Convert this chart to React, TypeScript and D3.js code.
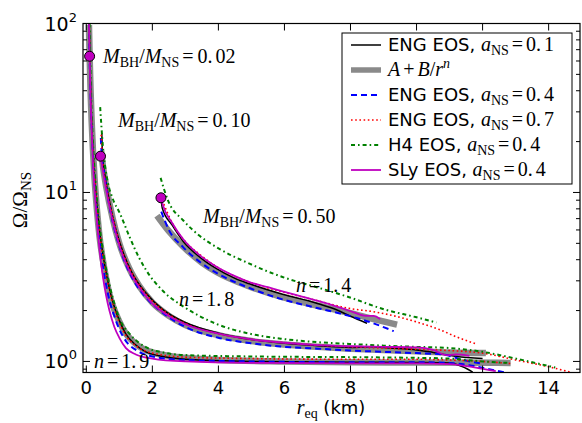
import React from "react";
import * as d3 from "d3";

type Pt = [number, number];

// ---------- axes ----------
const X_DOMAIN: [number, number] = [-0.1, 14.95];
const Y_DOMAIN: [number, number] = [0.86, 100];
const xTicks = [0, 2, 4, 6, 8, 10, 12, 14];
const yTicks = [1, 10, 100];
const yTickExponents = ["0", "1", "2"];
const yMinorTicks = [0.9, 2, 3, 4, 5, 6, 7, 8, 9, 20, 30, 40, 50, 60, 70, 80, 90];

// ---------- M_BH/M_NS = 0.02  (n = 1.9) ----------
const fit_q002: Pt[] = [[0.08, 98], [0.1, 64.5], [0.13, 39.6], [0.16, 27], [0.2, 18], [0.25, 12.1], [0.3, 8.9], [0.4, 5.5], [0.5, 4.0], [0.6, 3.1], [0.7, 2.5], [0.8, 2.15], [1.0, 1.72], [1.2, 1.46], [1.5, 1.27], [2.0, 1.13], [3, 1.05], [4, 1.02], [6, 1.0], [8, 0.99], [10, 0.985], [12.85, 0.98]];
const eng01_q002: Pt[] = [[0.09, 100], [0.11, 60], [0.15, 30], [0.2, 18], [0.3, 9.5], [0.4, 6.0], [0.55, 3.8], [0.7, 2.7], [0.85, 2.1], [1.0, 1.75], [1.2, 1.45], [1.5, 1.25], [1.8, 1.14], [2.2, 1.08], [3, 1.03], [5, 1.0], [8, 0.99], [10, 0.985], [11, 0.98], [11.4, 0.93], [11.7, 0.865]];
const eng04_q002: Pt[] = [[0.08, 100], [0.1, 62], [0.13, 37], [0.16, 25], [0.2, 16.5], [0.3, 8.4], [0.4, 5.2], [0.5, 3.7], [0.6, 2.85], [0.7, 2.3], [0.85, 1.85], [1.0, 1.55], [1.2, 1.32], [1.5, 1.17], [2.0, 1.07], [3, 1.02], [5, 1.0], [8, 0.99], [10, 0.99], [11, 0.98], [11.6, 0.95], [12.2, 0.9], [12.7, 0.86]];
const eng07_q002: Pt[] = [[0.09, 100], [0.11, 62], [0.15, 31], [0.2, 18.5], [0.3, 9.6], [0.4, 6.0], [0.55, 3.7], [0.7, 2.65], [0.85, 2.05], [1.0, 1.7], [1.2, 1.42], [1.5, 1.24], [2, 1.12], [3, 1.06], [5, 1.04], [8, 1.03], [10, 1.03], [11, 1.02], [12, 1.0], [12.9, 0.97]];
const h4_q002: Pt[] = [[0.1, 100], [0.12, 62], [0.15, 35], [0.2, 20], [0.3, 10.2], [0.4, 6.4], [0.55, 4.0], [0.7, 2.85], [0.85, 2.2], [1.0, 1.8], [1.32, 1.45], [1.82, 1.21], [2.33, 1.13], [3, 1.09], [5, 1.07], [8, 1.06], [10, 1.05], [11, 1.04], [12, 1.0], [12.8, 0.98]];
const sly04_q002: Pt[] = [[0.08, 100], [0.1, 64], [0.13, 36], [0.16, 24], [0.2, 15.5], [0.3, 7.6], [0.4, 4.6], [0.5, 3.2], [0.6, 2.45], [0.7, 2.0], [0.85, 1.6], [1.0, 1.38], [1.2, 1.2], [1.5, 1.1], [2.0, 1.04], [3, 1.0], [5, 0.98], [8, 0.975], [10, 0.975], [11, 0.965], [11.8, 0.92], [12.4, 0.875]];

// ---------- M_BH/M_NS = 0.10  (n = 1.8) ----------
const fit_q010: Pt[] = [[0.45, 17.6], [0.5, 14.5], [0.6, 10.9], [0.8, 7.0], [1.0, 5.0], [1.3, 3.55], [1.6, 2.8], [2, 2.23], [2.5, 1.86], [3, 1.64], [4, 1.43], [5, 1.32], [6, 1.26], [7, 1.22], [8, 1.19], [9, 1.17], [10, 1.15], [11, 1.13], [12.1, 1.12]];
const eng01_q010: Pt[] = [[0.47, 22.5], [0.49, 16.5], [0.55, 13.3], [0.7, 8.9], [0.9, 6.0], [1.1, 4.5], [1.4, 3.3], [1.8, 2.55], [2.3, 2.04], [3, 1.7], [4, 1.47], [5, 1.35], [6, 1.28], [7, 1.24], [8, 1.21], [8.6, 1.22], [9.2, 1.2], [10, 1.17], [10.5, 1.13], [11.2, 1.07], [12, 1.04]];
const eng04_q010: Pt[] = [[0.44, 21], [0.47, 16.5], [0.55, 12.8], [0.7, 8.3], [0.9, 5.6], [1.1, 4.2], [1.4, 3.1], [1.8, 2.4], [2.3, 1.95], [3, 1.6], [4, 1.38], [5, 1.28], [6, 1.22], [7, 1.19], [8, 1.16], [9, 1.14], [10, 1.12], [10.8, 1.1], [11.4, 1.02], [12, 0.97]];
const eng07_q010: Pt[] = [[0.45, 22], [0.5, 15.2], [0.6, 11.2], [0.8, 7.2], [1.0, 5.1], [1.3, 3.6], [1.6, 2.85], [2, 2.28], [2.5, 1.9], [3, 1.68], [4, 1.46], [5, 1.35], [6, 1.29], [7, 1.25], [8, 1.22], [9, 1.2], [10, 1.18], [11, 1.16], [12, 1.12], [13, 1.02], [14, 0.93], [14.7, 0.86]];
const h4_q010: Pt[] = [[0.42, 32], [0.5, 19], [0.66, 11.3], [0.8, 9.2], [1.02, 7.5], [1.32, 5.4], [1.6, 4.1], [1.82, 3.45], [2.33, 2.6], [2.93, 2.12], [3.93, 1.67], [4.94, 1.46], [5.94, 1.36], [7, 1.3], [7.96, 1.27], [9, 1.24], [9.97, 1.22], [11, 1.2], [12, 1.14], [13, 1.04], [14.2, 0.92]];
const sly04_q010: Pt[] = [[0.43, 16.4], [0.5, 13.5], [0.6, 10.4], [0.8, 6.8], [1.0, 4.85], [1.3, 3.45], [1.6, 2.75], [2, 2.2], [2.5, 1.86], [3, 1.66], [4, 1.46], [5, 1.35], [6, 1.29], [7, 1.25], [8, 1.23], [9, 1.22], [10, 1.21], [10.5, 1.17], [10.9, 1.09], [11.2, 1.1], [11.6, 1.08]];

// ---------- M_BH/M_NS = 0.50  (n = 1.4) ----------
const fit_q050: Pt[] = [[2.14, 7.3], [2.5, 5.9], [2.93, 4.8], [3.5, 3.85], [3.93, 3.4], [4.94, 2.78], [5.94, 2.4], [6.95, 2.15], [7.96, 1.94], [8.7, 1.78], [9.41, 1.65]];
const eng01_q050: Pt[] = [[2.26, 9.3], [2.3, 8.1], [2.6, 6.4], [2.93, 5.15], [3.4, 4.2], [3.93, 3.55], [4.5, 3.1], [4.94, 2.88], [5.94, 2.5], [6.95, 2.22], [7.5, 2.05], [8.0, 1.85], [8.5, 1.68]];
const eng04_q050: Pt[] = [[2.27, 7.7], [2.5, 6.0], [2.93, 4.75], [3.5, 3.8], [3.93, 3.35], [4.94, 2.72], [5.94, 2.33], [6.95, 2.08], [7.96, 1.86], [8.7, 1.68], [9.31, 1.51]];
const eng07_q050: Pt[] = [[2.3, 9.0], [2.6, 6.6], [2.93, 5.3], [3.5, 4.2], [3.93, 3.65], [4.94, 2.95], [5.94, 2.58], [6.95, 2.3], [7.96, 2.06], [8.76, 1.96], [9.97, 1.72], [10.67, 1.55], [11.2, 1.4], [11.8, 1.27]];
const h4_q050: Pt[] = [[2.25, 12.2], [2.47, 9.0], [2.93, 6.85], [3.4, 5.6], [3.93, 4.76], [4.94, 3.79], [5.94, 3.16], [6.95, 2.76], [7.96, 2.4], [8.96, 2.05], [9.97, 1.83], [10.6, 1.7]];
const sly04_q050: Pt[] = [[2.26, 9.3], [2.32, 8.4], [2.6, 6.6], [2.93, 5.3], [3.4, 4.3], [3.93, 3.65], [4.5, 3.2], [4.94, 2.95], [5.5, 2.75], [5.94, 2.6], [6.5, 2.43], [6.95, 2.3], [7.4, 2.17], [7.76, 2.06], [8.1, 1.95], [8.46, 1.86], [8.7, 1.86], [8.9, 1.78]];

// start markers (SLy, a=0.4)
const startMarkers: Pt[] = [[0.1, 64], [0.43, 16.4], [2.26, 9.3]];

// annotations
const ratioLabels = ["0.02", "0.10", "0.50"];
const nLabels = ["1.9", "1.8", "1.4"];

// legend
const legendNames = ["ENG EOS", "", "ENG EOS", "ENG EOS", "H4 EOS", "SLy EOS"];
const legendSpins = ["0.1", "", "0.4", "0.7", "0.4", "0.4"];

// ---------- layout / styles ----------
const W = 582, H = 423;
const L = 83, R = 580, T = 23.5, B = 372.5;
const SERIF = "'Liberation Serif', 'DejaVu Serif', serif";
const SANS = "'DejaVu Sans', sans-serif";

type Style = { stroke: string; width: number; dash?: string };
const styles: Record<string, Style> = {
  eng01: { stroke: "#000000", width: 1.5 },
  fit: { stroke: "#8a8a8a", width: 6.5 },
  eng04: { stroke: "#0000ff", width: 2, dash: "6,4" },
  eng07: { stroke: "#ff0000", width: 1.6, dash: "1.6,2.6" },
  h4: { stroke: "#008000", width: 2, dash: "4,3,1.6,3" },
  sly04: { stroke: "#bf00bf", width: 1.8 },
};
const legendOrder = ["eng01", "fit", "eng04", "eng07", "h4", "sly04"];

const x = d3.scaleLinear().domain(X_DOMAIN).range([L, R]);
const y = d3.scaleLog().domain(Y_DOMAIN).range([B, T]);
const line = d3
  .line<Pt>()
  .x((d) => x(d[0]))
  .y((d) => y(d[1]))
  .curve(d3.curveMonotoneX);

const drawOrder: { key: string; data: Pt[] }[] = [
  { key: "fit", data: fit_q002 },
  { key: "fit", data: fit_q010 },
  { key: "fit", data: fit_q050 },
  { key: "eng01", data: eng01_q002 },
  { key: "eng01", data: eng01_q010 },
  { key: "eng01", data: eng01_q050 },
  { key: "eng04", data: eng04_q002 },
  { key: "eng04", data: eng04_q010 },
  { key: "eng04", data: eng04_q050 },
  { key: "eng07", data: eng07_q002 },
  { key: "eng07", data: eng07_q010 },
  { key: "eng07", data: eng07_q050 },
  { key: "h4", data: h4_q002 },
  { key: "h4", data: h4_q010 },
  { key: "h4", data: h4_q050 },
  { key: "sly04", data: sly04_q002 },
  { key: "sly04", data: sly04_q010 },
  { key: "sly04", data: sly04_q050 },
];

function RatioLabel({ px, py, value, size }: { px: number; py: number; value: string; size: number }) {
  const sub = size * 0.7;
  const dy = size * 0.22;
  const [a, b] = value.split(".");
  return (
    <text x={px} y={py} fontFamily={SERIF} fontSize={size} fill="#000">
      <tspan fontStyle="italic">M</tspan>
      <tspan fontSize={sub} dy={dy}>BH</tspan>
      <tspan dy={-dy}>/</tspan>
      <tspan fontStyle="italic">M</tspan>
      <tspan fontSize={sub} dy={dy}>NS</tspan>
      <tspan dy={-dy} dx={3}>=</tspan>
      <tspan dx={4}>{a}.</tspan>
      <tspan dx={3}>{b}</tspan>
    </text>
  );
}

function NLabel({ px, py, value, size }: { px: number; py: number; value: string; size: number }) {
  const [a, b] = value.split(".");
  return (
    <text x={px} y={py} fontFamily={SERIF} fontSize={size} fill="#000">
      <tspan fontStyle="italic">n</tspan>
      <tspan dx={3}>=</tspan>
      <tspan dx={3}>{a}.</tspan>
      <tspan dx={3}>{b}</tspan>
    </text>
  );
}

export default function App() {
  const ratioPos: Pt[] = [[103, 63], [118, 127], [203, 223]];
  const nPos: Pt[] = [[94, 368], [179, 306], [296, 292]];
  const legY0 = 45;
  const legDY = 25;
  return (
    <svg width={W} height={H} style={{ display: "block", position: "absolute", left: 0, top: 0 }}>
      <rect x={0} y={0} width={W} height={H} fill="#fff" />
      <defs>
        <clipPath id="plotclip">
          <rect x={L} y={T} width={R - L} height={B - T} />
        </clipPath>
      </defs>
      <g clipPath="url(#plotclip)">
        {drawOrder.map((s, i) => {
          const st = styles[s.key];
          return (
            <path
              key={i}
              d={line(s.data) || ""}
              fill="none"
              stroke={st.stroke}
              strokeWidth={st.width}
              strokeDasharray={st.dash}
              strokeLinejoin="round"
            />
          );
        })}
        {startMarkers.map((p, i) => (
          <circle key={i} cx={x(p[0])} cy={y(p[1])} r={5} fill="#bf00bf" stroke="#000" strokeWidth={1} />
        ))}
      </g>

      {/* annotations */}
      {ratioLabels.map((v, i) => (
        <RatioLabel key={i} px={ratioPos[i][0]} py={ratioPos[i][1]} value={v} size={20} />
      ))}
      {nLabels.map((v, i) => (
        <NLabel key={i} px={nPos[i][0]} py={nPos[i][1]} value={v} size={20} />
      ))}

      {/* frame */}
      <rect x={L} y={T} width={R - L} height={B - T} fill="none" stroke="#000" strokeWidth={1.2} />

      {/* x ticks */}
      {xTicks.map((t) => (
        <g key={"x" + t}>
          <line x1={x(t)} x2={x(t)} y1={B} y2={B - 7} stroke="#000" strokeWidth={1} />
          <line x1={x(t)} x2={x(t)} y1={T} y2={T + 7} stroke="#000" strokeWidth={1} />
          <text x={x(t)} y={394} textAnchor="middle" fontFamily={SANS} fontSize={18} fill="#000">
            {t}
          </text>
        </g>
      ))}
      {/* y ticks */}
      {yTicks.map((t, i) => (
        <g key={"y" + t}>
          <line x1={L} x2={L + 7} y1={y(t)} y2={y(t)} stroke="#000" strokeWidth={1} />
          <line x1={R} x2={R - 7} y1={y(t)} y2={y(t)} stroke="#000" strokeWidth={1} />
          <text x={77} y={y(t) + 7} textAnchor="end" fontFamily={SANS} fontSize={19} fill="#000">
            10
            <tspan fontSize={13} dy={-9}>
              {yTickExponents[i]}
            </tspan>
          </text>
        </g>
      ))}
      {yMinorTicks.map((t) => (
        <g key={"ym" + t}>
          <line x1={L} x2={L + 4} y1={y(t)} y2={y(t)} stroke="#000" strokeWidth={1} />
          <line x1={R} x2={R - 4} y1={y(t)} y2={y(t)} stroke="#000" strokeWidth={1} />
        </g>
      ))}

      {/* axis labels */}
      <text x={331} y={414} textAnchor="middle" fill="#000">
        <tspan fontFamily={SERIF} fontStyle="italic" fontSize={20}>r</tspan>
        <tspan fontFamily={SERIF} fontSize={14} dy={4}>eq</tspan>
        <tspan fontFamily={SANS} fontSize={18} dy={-4}>{" (km)"}</tspan>
      </text>
      <text transform="translate(27,200) rotate(-90)" textAnchor="middle" fontFamily={SERIF} fontSize={21} fill="#000">
        Ω/Ω
        <tspan fontSize={15} dy={4}>NS</tspan>
      </text>

      {/* legend */}
      <rect x={342} y={33} width={230} height={151} fill="#fff" stroke="#000" strokeWidth={1} />
      {legendOrder.map((k, i) => {
        const st = styles[k];
        const ly = legY0 + legDY * i;
        return (
          <g key={"leg" + k}>
            <line
              x1={351}
              x2={381}
              y1={ly}
              y2={ly}
              stroke={st.stroke}
              strokeWidth={k === "fit" ? 5.5 : st.width}
              strokeDasharray={st.dash}
            />
            {k === "fit" ? (
              <text x={388} y={ly + 6} fontFamily={SERIF} fontSize={20} fill="#000">
                <tspan fontStyle="italic">A</tspan>
                <tspan dx={3}>+</tspan>
                <tspan dx={3} fontStyle="italic">B</tspan>
                <tspan>/</tspan>
                <tspan fontStyle="italic">r</tspan>
                <tspan fontStyle="italic" fontSize={14} dy={-8}>n</tspan>
              </text>
            ) : (
              <text x={388} y={ly + 6} fontFamily={SANS} fontSize={18} fill="#000">
                {legendNames[i] + ", "}
                <tspan fontFamily={SERIF} fontStyle="italic" fontSize={20}>a</tspan>
                <tspan fontFamily={SERIF} fontSize={14} dy={4}>NS</tspan>
                <tspan fontFamily={SERIF} fontSize={20} dy={-4} dx={3}>=</tspan>
                <tspan fontFamily={SERIF} fontSize={20} dx={3}>{legendSpins[i].split(".")[0] + "."}</tspan>
                <tspan fontFamily={SERIF} fontSize={20} dx={3}>{legendSpins[i].split(".")[1]}</tspan>
              </text>
            )}
          </g>
        );
      })}
    </svg>
  );
}
